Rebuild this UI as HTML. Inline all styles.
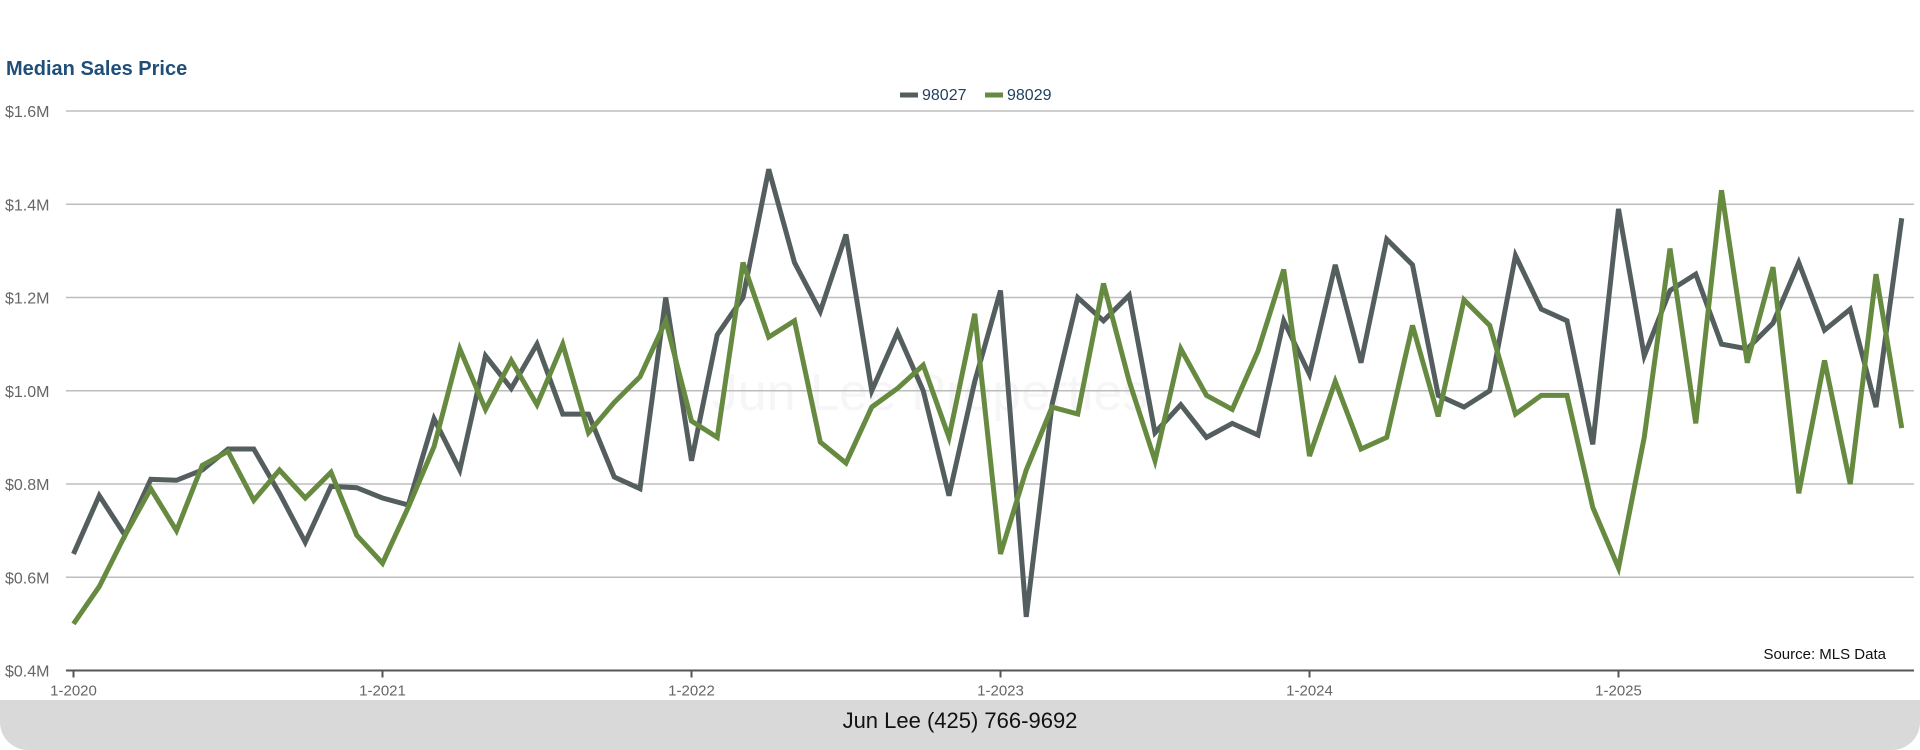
<!DOCTYPE html>
<html><head><meta charset="utf-8"><style>
html,body{margin:0;padding:0;background:#fff;}
body{width:1920px;height:750px;position:relative;overflow:hidden;font-family:"Liberation Sans",sans-serif;}
#footer{position:absolute;left:0;top:700px;width:1920px;height:50px;background:#d9d9d9;border-radius:0 0 28px 28px;}
#footer span{position:absolute;width:100%;text-align:center;top:8px;font-size:22px;color:#111;}
</style></head><body>
<div id="footer"><span>Jun Lee (425) 766-9692</span></div>
<svg id="chart" width="1920" height="750" style="position:absolute;left:0;top:0"></svg>
<script>
const months = [];
for (let y = 2020; y <= 2025; y++) for (let m = 1; m <= 12; m++) months.push(m + '-' + y);
const s98027 = [0.65,0.775,0.69,0.81,0.808,0.83,0.875,0.875,0.78,0.675,0.795,0.792,0.77,0.755,0.94,0.83,1.075,1.005,1.1,0.95,0.95,0.815,0.79,1.2,0.85,1.12,1.2,1.475,1.275,1.17,1.335,1.0,1.125,1.0,0.775,1.02,1.215,0.515,0.97,1.2,1.15,1.205,0.91,0.97,0.9,0.93,0.905,1.15,1.035,1.27,1.06,1.325,1.27,0.99,0.965,1.0,1.29,1.175,1.15,0.885,1.39,1.075,1.215,1.25,1.1,1.09,1.145,1.275,1.13,1.175,0.965,1.37];
const s98029 = [0.5,0.58,0.69,0.79,0.70,0.84,0.87,0.765,0.83,0.77,0.825,0.69,0.63,0.75,0.88,1.09,0.96,1.065,0.97,1.10,0.91,0.975,1.03,1.15,0.935,0.90,1.275,1.115,1.15,0.89,0.845,0.965,1.005,1.055,0.90,1.165,0.65,0.83,0.965,0.95,1.23,1.02,0.85,1.09,0.99,0.96,1.085,1.26,0.86,1.02,0.875,0.90,1.14,0.945,1.195,1.14,0.95,0.99,0.99,0.75,0.62,0.9,1.305,0.93,1.43,1.06,1.265,0.78,1.065,0.80,1.25,0.92];
const yTicks = [0.4,0.6,0.8,1.0,1.2,1.4,1.6];
const yTickLabels = ['$0.4M','$0.6M','$0.8M','$1.0M','$1.2M','$1.4M','$1.6M'];
const xTickIdx = [0,12,24,36,48,60];

const NS='http://www.w3.org/2000/svg';
const svg=document.getElementById('chart');
const X0=73.5, DX=25.75, Y0=670.5, Y1=111, V0=0.4, V1=1.6;
const xs=i=>X0+i*DX;
const ys=v=>Y0-(v-V0)/(V1-V0)*(Y0-Y1);
function el(t,a,txt){const e=document.createElementNS(NS,t);for(const k in a)e.setAttribute(k,a[k]);if(txt!==undefined)e.textContent=txt;svg.appendChild(e);return e;}

let t=el('text',{x:6,y:75,'font-size':20,'font-weight':'bold',fill:'#1f4e79','font-family':'Liberation Sans, sans-serif'},'Median Sales Price');



let w=el('text',{x:930,y:410,'font-size':52,fill:'#f6f6f6','text-anchor':'middle','font-family':'Liberation Sans, sans-serif'},'Jun Lee Properties');



yTicks.forEach((v,i)=>{
  if(i>0){const g=el('line',{x1:66,x2:1914,y1:ys(v),y2:ys(v),stroke:'#bdbdbd','stroke-width':1.5});
  
  }
  const l=el('text',{x:5,y:ys(v)+6,'font-size':16,fill:'#666','font-family':'Liberation Sans, sans-serif'},yTickLabels[i]);
  
  
});
let ax=el('line',{x1:66,x2:1914,y1:Y0,y2:Y0,stroke:'#555','stroke-width':2});


xTickIdx.forEach(i=>{
  const tk=el('line',{x1:xs(i),x2:xs(i),y1:Y0,y2:Y0+7,stroke:'#555','stroke-width':2});
  
  
  const l=el('text',{x:xs(i),y:Y0+25,'font-size':15,fill:'#666','text-anchor':'middle','font-family':'Liberation Sans, sans-serif'},months[i]);
  
  
});
function series(data,color,name){
  const p=el('polyline',{points:data.map((v,i)=>xs(i)+','+ys(v)).join(' '),fill:'none',stroke:color,'stroke-width':5,'stroke-linejoin':'miter'});
  
  
}
series(s98027,'#555e5e','line-98027');
series(s98029,'#678a41','line-98029');

function legend(x,color,label,name){
  const g=el('line',{x1:x,x2:x+18,y1:95,y2:95,stroke:color,'stroke-width':5});
  
  
  const l=el('text',{x:x+22,y:100,'font-size':16,fill:'#1f3f5f','font-family':'Liberation Sans, sans-serif'},label);
  
  
}
legend(900,'#555e5e','98027','legend-entry-98027');
legend(985,'#678a41','98029','legend-entry-98029');

let s=el('text',{x:1886,y:659,'font-size':15,fill:'#111','text-anchor':'end','font-family':'Liberation Sans, sans-serif'},'Source: MLS Data');


</script>
</body></html>
